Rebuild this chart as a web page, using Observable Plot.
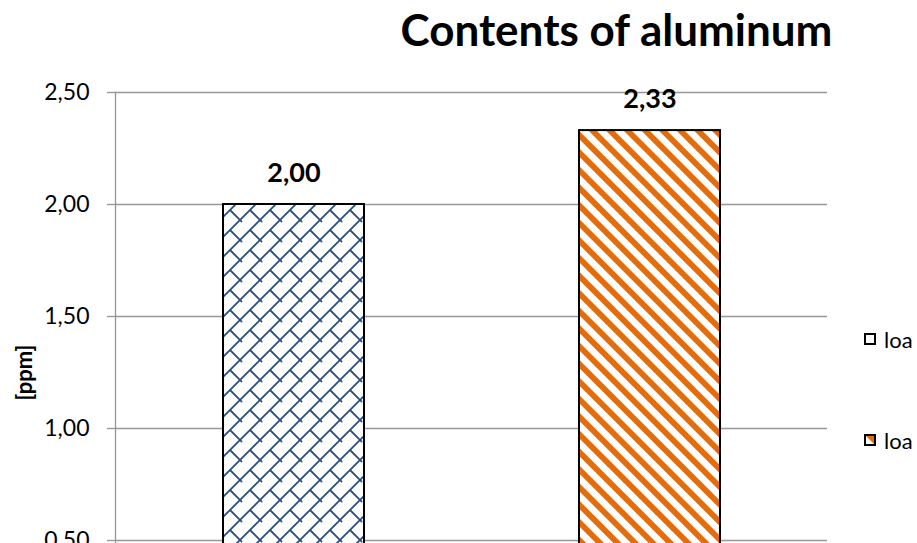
<!DOCTYPE html>
<html><head><meta charset="utf-8">
<script src="https://cdn.jsdelivr.net/npm/d3@7"></script>
<script src="https://cdn.jsdelivr.net/npm/@observablehq/plot@0.6"></script>
<style>
html,body{margin:0;padding:0;overflow:hidden;background:#fff;width:917px;height:543px}
#wrap{position:relative;width:917px;height:543px;overflow:hidden;font-family:Lato,sans-serif}
#chart{position:absolute;left:0;top:0}
#title{position:absolute;left:0;top:7px;width:917px;padding-left:316px;box-sizing:border-box;text-align:center;font-weight:bold;font-size:44px;line-height:44px;white-space:nowrap;color:#000}
.lg{position:absolute;left:864px;display:flex;align-items:center;font-size:22px;color:#000;white-space:nowrap;height:12px}
.lg svg{display:block;margin-right:8px}
</style></head><body>
<div id="wrap"><div id="chart"></div><div id="title">Contents of aluminum</div><div id="legend"></div></div>
<script>
// ---- data ----
const seriesLabels = ["loa", "loa"];
const values = [2.00, 2.33];
const valueLabels = ["2,00", "2,33"];
const yTicks = [0, 0.5, 1.0, 1.5, 2.0, 2.5];
const chartTitle = "Contents of aluminum";
const yLabel = "[ppm]";

// ---- styles ----
const patternUrls = ["url(#pBrick)", "url(#pStripe)"];
const gridColor = "#969696";

const data = values.map((v, i) => ({idx: i, value: v, label: valueLabels[i], series: seriesLabels[i]}));

const plot = Plot.plot({
  width: 917,
  height: 700,
  marginTop: 92,
  marginLeft: 115,
  marginRight: 90,
  marginBottom: 48,
  style: {fontFamily: "Lato, sans-serif", background: "transparent", overflow: "visible", color: "#000"},
  x: {type: "band", domain: [0, 1], paddingInner: 0.604, paddingOuter: 0.302, axis: null},
  y: {domain: [0, 2.5], axis: null},
  color: {type: "ordinal", domain: [0, 1], range: patternUrls},
  marks: [
    Plot.ruleY(yTicks, {stroke: gridColor, strokeWidth: 1.3}),
    Plot.frame({anchor: "left", stroke: gridColor, strokeWidth: 1.3}),
    Plot.axisY({ticks: yTicks, tickFormat: d => d.toFixed(2).replace(".", ","), tickSize: 8, tickPadding: 18, stroke: gridColor, strokeWidth: 1.3, fill: "#000", fontSize: 23, label: null}),
    Plot.barY(data, {x: "idx", y: "value", fill: "idx", stroke: "#000", strokeWidth: 2}),
    Plot.text(data, {x: "idx", y: "value", text: "label", dy: -31, fontSize: 27, fontWeight: "bold", fill: "#000"}),
    Plot.text([yLabel], {text: d => d, frameAnchor: "left", rotate: -90, dx: -91, textAnchor: "middle", fontSize: 22, fontWeight: "bold", fill: "#000"})
  ]
});

function addDefs(svgEl) {
  const defs = d3.select(svgEl).insert("defs", ":first-child");
  const P = 20;
  const b = defs.append("pattern").attr("id", "pBrick").attr("patternUnits", "userSpaceOnUse")
    .attr("width", P).attr("height", P);
  b.append("rect").attr("width", P).attr("height", P).attr("fill", "#fff");
  b.append("path")
    .attr("d", `M-2,${P + 2}L${P + 2},-2 M${P / 2},${P / 2}L${P + 2},${P + 2} M-2,-2L2,2`)
    .attr("stroke", "#2A4F7E").attr("stroke-width", 1.8).attr("fill", "none");
  const S = 12.45;
  const s = defs.append("pattern").attr("id", "pStripe").attr("patternUnits", "userSpaceOnUse")
    .attr("width", S).attr("height", S).attr("patternTransform", "rotate(-45)");
  s.append("rect").attr("width", S).attr("height", S).attr("fill", "#fff");
  s.append("rect").attr("width", 5.8).attr("height", S).attr("fill", "#E46C0A");
}
const svgEl = plot.tagName.toLowerCase() === "svg" ? plot : plot.querySelector("svg");
addDefs(svgEl);
document.getElementById("chart").appendChild(plot);
document.getElementById("title").textContent = chartTitle;

// legend
const legend = document.getElementById("legend");
const legendTops = [333, 434];
seriesLabels.forEach((name, i) => {
  const item = document.createElement("div");
  item.className = "lg";
  item.style.top = legendTops[i] + "px";
  const fill = i === 0 ? "#fff" : patternUrls[i];
  item.innerHTML = `<svg width="12" height="12"><rect x="1" y="1" width="10" height="10" fill="${fill}" stroke="#000" stroke-width="2"/></svg><span>${name}</span>`;
  legend.appendChild(item);
});
</script>
</body></html>
